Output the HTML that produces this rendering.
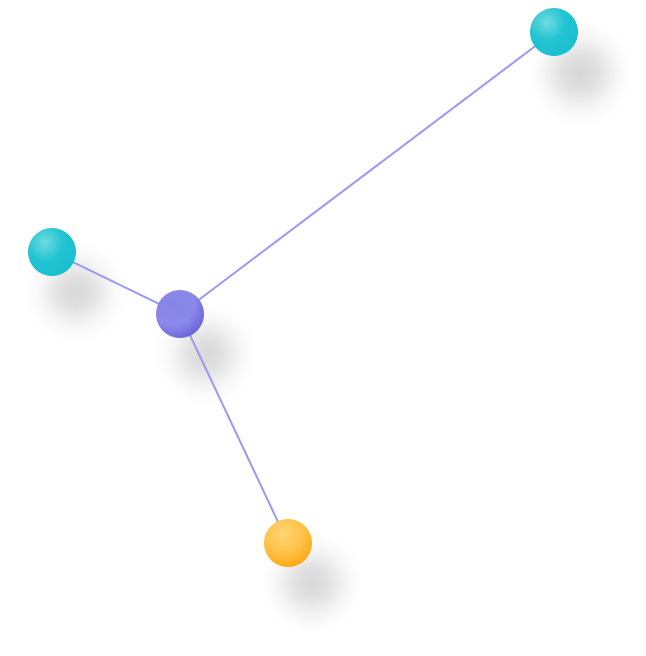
<!DOCTYPE html>
<html><head><meta charset="utf-8"><style>
html,body{margin:0;padding:0;background:#fff;width:646px;height:656px;overflow:hidden}
</style></head><body>
<svg width="646" height="656" viewBox="0 0 646 656" xmlns="http://www.w3.org/2000/svg">
<defs>
<filter id="sh" x="-100%" y="-100%" width="300%" height="300%"><feGaussianBlur stdDeviation="14"/></filter>
<radialGradient id="cy" cx="0.35" cy="0.3" r="0.7">
<stop offset="0" stop-color="#6fdcdf"/><stop offset="0.55" stop-color="#22c4d2"/><stop offset="1" stop-color="#1cbfcf"/></radialGradient>
<radialGradient id="pu" cx="0.35" cy="0.3" r="0.75">
<stop offset="0" stop-color="#8686e6"/><stop offset="0.6" stop-color="#8a88ea"/><stop offset="1" stop-color="#6a64d8"/></radialGradient>
<radialGradient id="or" cx="0.4" cy="0.3" r="0.75">
<stop offset="0" stop-color="#ffd574"/><stop offset="0.6" stop-color="#ffc043"/><stop offset="1" stop-color="#fca60e"/></radialGradient>
</defs>
<g fill="#000" opacity="0.16" filter="url(#sh)">
<circle cx="580" cy="73" r="30"/>
<circle cx="76" cy="292" r="28"/>
<circle cx="206" cy="354" r="28"/>
<circle cx="312" cy="583" r="28"/>
</g>
<g stroke="#9a98f4" stroke-width="2" fill="none">
<line x1="180" y1="314" x2="554" y2="32"/>
<line x1="180" y1="314" x2="52" y2="252"/>
<line x1="180" y1="314" x2="288" y2="543"/>
</g>
<circle cx="554" cy="32" r="24" fill="url(#cy)"/>
<circle cx="52" cy="252" r="24" fill="url(#cy)"/>
<circle cx="180" cy="314" r="24" fill="url(#pu)"/>
<circle cx="288" cy="543" r="24" fill="url(#or)"/>
</svg>
</body></html>
